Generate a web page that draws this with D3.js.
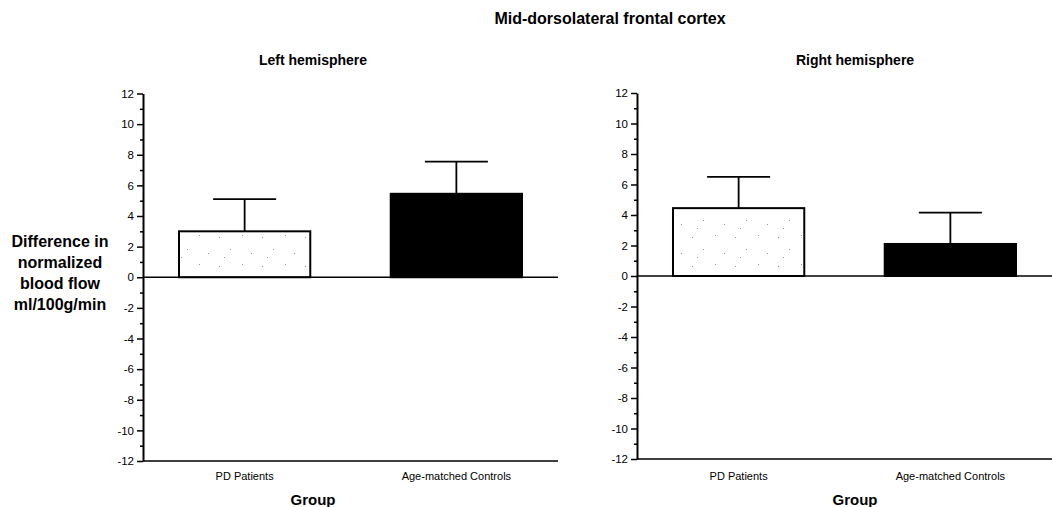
<!DOCTYPE html>
<html>
<head>
<meta charset="utf-8">
<script src="https://cdn.jsdelivr.net/npm/d3@7"></script>
<style>
  html, body { margin: 0; padding: 0; background: #fff; }
  text { font-family: 'Liberation Sans', Arial, Helvetica, sans-serif; fill: #000; }
</style>
</head>
<body>
<div id="chart"></div>
<script>
// ===== MID-DORSOLATERAL FRONTAL CORTEX BAR CHART =====

const groups = ['PD Patients', 'Age-matched Controls'];
const hemispheres = ['Left hemisphere', 'Right hemisphere'];

// mean difference and upper error (SE)
const leftMeans = [3.0, 5.45];
const leftErrors = [2.1, 2.1];
const rightMeans = [4.45, 2.1];
const rightErrors = [2.05, 2.05];

const majorTicks = [-12, -10, -8, -6, -4, -2, 0, 2, 4, 6, 8, 10, 12];
const minorTicks = [-11, -9, -7, -5, -3, -1, 1, 3, 5, 7, 9, 11];

const chartTitle = 'Mid-dorsolateral frontal cortex';
const yLabelLines = ['Difference in', 'normalized', 'blood flow', 'ml/100g/min'];
const xLabel = 'Group';

const width = 1052, height = 507;

// panel layout
const panels = [
  { name: hemispheres[0], means: leftMeans, errors: leftErrors, x0: 143, x1: 558, cx: 313, yTop: 93.5, yBot: 461 },
  { name: hemispheres[1], means: rightMeans, errors: rightErrors, x0: 637, x1: 1052, cx: 855, yTop: 93, yBot: 459 }
];

const svg = d3.select('#chart')
  .append('svg')
  .attr('width', width)
  .attr('height', height);

// very sparse stipple for the PD bars
const defs = svg.append('defs');
const stipple = defs.append('pattern')
  .attr('id', 'stipple')
  .attr('patternUnits', 'userSpaceOnUse')
  .attr('width', 43)
  .attr('height', 29);
stipple.append('rect').attr('width', 43).attr('height', 29).attr('fill', '#fff');
[[4, 5], [27, 3], [15, 17], [36, 21], [9, 25]].forEach(p => {
  stipple.append('rect')
    .attr('x', p[0]).attr('y', p[1])
    .attr('width', 1).attr('height', 1)
    .attr('fill', '#999');
});

// main title
svg.append('text')
  .attr('x', 610)
  .attr('y', 24)
  .attr('text-anchor', 'middle')
  .attr('font-size', '16px')
  .attr('font-weight', 'bold')
  .text(chartTitle);

// y label (only on the left panel)
svg.append('g')
  .selectAll('text')
  .data(yLabelLines)
  .join('text')
  .attr('x', 60)
  .attr('y', (d, i) => 247 + i * 21)
  .attr('text-anchor', 'middle')
  .attr('font-size', '16px')
  .attr('font-weight', 'bold')
  .text(d => d);

panels.forEach(p => {
  const g = svg.append('g');

  const y = d3.scaleLinear()
    .domain([-12, 12])
    .range([p.yBot, p.yTop]);

  const x = d3.scaleBand()
    .domain(groups)
    .range([p.x0, p.x1])
    .paddingInner(0.38)
    .paddingOuter(0.17);

  // panel title
  g.append('text')
    .attr('x', p.cx)
    .attr('y', 65)
    .attr('text-anchor', 'middle')
    .attr('font-size', '14px')
    .attr('font-weight', 'bold')
    .text(p.name);

  // y axis
  const yAxis = d3.axisLeft(y)
    .tickValues(majorTicks)
    .tickSize(6)
    .tickSizeOuter(0)
    .tickPadding(3)
    .tickFormat(d => String(d));

  const ya = g.append('g')
    .attr('transform', `translate(${p.x0}, 0)`)
    .call(yAxis);
  ya.select('.domain').attr('stroke-width', 2);
  ya.selectAll('.tick line').attr('stroke-width', 1.5);
  ya.selectAll('text')
    .attr('font-size', '11.5px')
    .attr('font-family', "'Liberation Sans', Arial, sans-serif");

  const yMinor = d3.axisLeft(y)
    .tickValues(minorTicks)
    .tickSize(3)
    .tickSizeOuter(0)
    .tickFormat('');
  const ym = g.append('g')
    .attr('transform', `translate(${p.x0}, 0)`)
    .call(yMinor);
  ym.select('.domain').remove();
  ym.selectAll('.tick line').attr('stroke-width', 1.5);

  // bars
  g.selectAll('rect.bar')
    .data(groups)
    .join('rect')
    .attr('class', 'bar')
    .attr('x', d => x(d))
    .attr('y', (d, i) => y(p.means[i]))
    .attr('width', x.bandwidth())
    .attr('height', (d, i) => y(0) - y(p.means[i]))
    .attr('fill', (d, i) => i === 0 ? 'url(#stipple)' : '#000')
    .attr('stroke', '#000')
    .attr('stroke-width', 2);

  // error bars (upper only)
  const capHalf = x.bandwidth() * 0.24;
  g.selectAll('line.err')
    .data(groups)
    .join('line')
    .attr('class', 'err')
    .attr('x1', d => x(d) + x.bandwidth() / 2)
    .attr('x2', d => x(d) + x.bandwidth() / 2)
    .attr('y1', (d, i) => y(p.means[i]))
    .attr('y2', (d, i) => y(p.means[i] + p.errors[i]))
    .attr('stroke', '#000')
    .attr('stroke-width', 1.8);

  g.selectAll('line.cap')
    .data(groups)
    .join('line')
    .attr('class', 'cap')
    .attr('x1', d => x(d) + x.bandwidth() / 2 - capHalf)
    .attr('x2', d => x(d) + x.bandwidth() / 2 + capHalf)
    .attr('y1', (d, i) => y(p.means[i] + p.errors[i]))
    .attr('y2', (d, i) => y(p.means[i] + p.errors[i]))
    .attr('stroke', '#000')
    .attr('stroke-width', 1.8);

  // zero line and bottom line
  [0, -12].forEach(v => {
    g.append('line')
      .attr('x1', p.x0)
      .attr('x2', p.x1)
      .attr('y1', y(v))
      .attr('y2', y(v))
      .attr('stroke', '#000')
      .attr('stroke-width', 1.6);
  });

  // category labels
  g.selectAll('text.cat')
    .data(groups)
    .join('text')
    .attr('class', 'cat')
    .attr('x', d => x(d) + x.bandwidth() / 2)
    .attr('y', 480)
    .attr('text-anchor', 'middle')
    .attr('font-size', '11px')
    .text(d => d);

  // x axis title
  g.append('text')
    .attr('x', p.cx)
    .attr('y', 505)
    .attr('text-anchor', 'middle')
    .attr('font-size', '15px')
    .attr('font-weight', 'bold')
    .text(xLabel);
});
</script>
</body>
</html>
